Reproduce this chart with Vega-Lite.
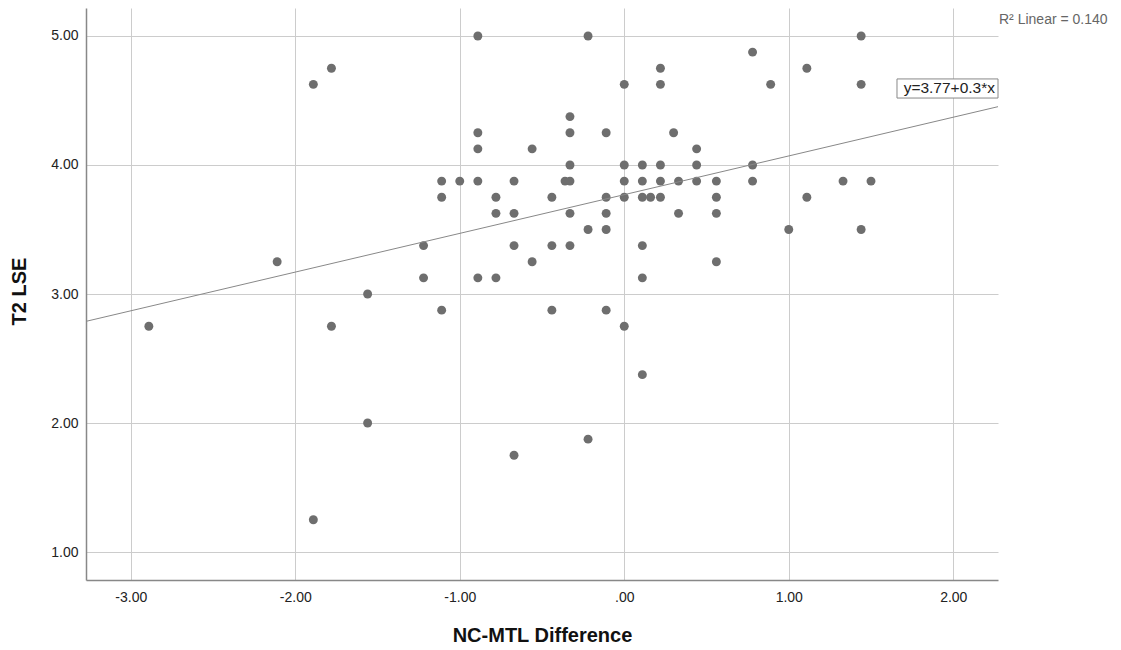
{
  "$schema": "https://vega.github.io/schema/vega-lite/v6.json",
  "width": 912,
  "height": 572,
  "autosize": {"type": "none"},
  "padding": {"left": 86, "top": 8, "right": 123, "bottom": 70},
  "background": "white",
  "config": {"view": {"stroke": null}, "font": "Liberation Sans"},
  "datasets": {
    "points": [
      {"diff": -0.89, "lse": 5.0}, {"diff": -0.22, "lse": 5.0}, {"diff": 1.44, "lse": 5.0},
      {"diff": 0.78, "lse": 4.875},
      {"diff": -1.78, "lse": 4.75}, {"diff": 0.22, "lse": 4.75}, {"diff": 1.11, "lse": 4.75},
      {"diff": -1.89, "lse": 4.625}, {"diff": 0.0, "lse": 4.625}, {"diff": 0.22, "lse": 4.625}, {"diff": 0.89, "lse": 4.625}, {"diff": 1.44, "lse": 4.625},
      {"diff": -0.33, "lse": 4.375},
      {"diff": -0.89, "lse": 4.25}, {"diff": -0.33, "lse": 4.25}, {"diff": -0.11, "lse": 4.25}, {"diff": 0.30, "lse": 4.25},
      {"diff": -0.89, "lse": 4.125}, {"diff": -0.56, "lse": 4.125}, {"diff": 0.44, "lse": 4.125},
      {"diff": -0.33, "lse": 4.0}, {"diff": 0.0, "lse": 4.0}, {"diff": 0.11, "lse": 4.0}, {"diff": 0.22, "lse": 4.0}, {"diff": 0.44, "lse": 4.0}, {"diff": 0.78, "lse": 4.0},
      {"diff": -1.11, "lse": 3.875}, {"diff": -1.0, "lse": 3.875}, {"diff": -0.89, "lse": 3.875}, {"diff": -0.67, "lse": 3.875}, {"diff": -0.36, "lse": 3.875}, {"diff": -0.33, "lse": 3.875}, {"diff": 0.0, "lse": 3.875}, {"diff": 0.11, "lse": 3.875}, {"diff": 0.22, "lse": 3.875}, {"diff": 0.33, "lse": 3.875}, {"diff": 0.44, "lse": 3.875}, {"diff": 0.56, "lse": 3.875}, {"diff": 0.78, "lse": 3.875}, {"diff": 1.33, "lse": 3.875}, {"diff": 1.50, "lse": 3.875},
      {"diff": -1.11, "lse": 3.75}, {"diff": -0.78, "lse": 3.75}, {"diff": -0.44, "lse": 3.75}, {"diff": -0.11, "lse": 3.75}, {"diff": 0.0, "lse": 3.75}, {"diff": 0.11, "lse": 3.75}, {"diff": 0.16, "lse": 3.75}, {"diff": 0.22, "lse": 3.75}, {"diff": 0.56, "lse": 3.75}, {"diff": 1.11, "lse": 3.75},
      {"diff": -0.78, "lse": 3.625}, {"diff": -0.67, "lse": 3.625}, {"diff": -0.33, "lse": 3.625}, {"diff": -0.11, "lse": 3.625}, {"diff": 0.33, "lse": 3.625}, {"diff": 0.56, "lse": 3.625},
      {"diff": -0.22, "lse": 3.5}, {"diff": -0.11, "lse": 3.5}, {"diff": 1.0, "lse": 3.5}, {"diff": 1.44, "lse": 3.5},
      {"diff": -1.22, "lse": 3.375}, {"diff": -0.67, "lse": 3.375}, {"diff": -0.44, "lse": 3.375}, {"diff": -0.33, "lse": 3.375}, {"diff": 0.11, "lse": 3.375},
      {"diff": -2.11, "lse": 3.25}, {"diff": -0.56, "lse": 3.25}, {"diff": 0.56, "lse": 3.25},
      {"diff": -1.22, "lse": 3.125}, {"diff": -0.89, "lse": 3.125}, {"diff": -0.78, "lse": 3.125}, {"diff": 0.11, "lse": 3.125},
      {"diff": -1.56, "lse": 3.0},
      {"diff": -1.11, "lse": 2.875}, {"diff": -0.44, "lse": 2.875}, {"diff": -0.11, "lse": 2.875},
      {"diff": -2.89, "lse": 2.75}, {"diff": -1.78, "lse": 2.75}, {"diff": 0.0, "lse": 2.75},
      {"diff": 0.11, "lse": 2.375},
      {"diff": -1.56, "lse": 2.0},
      {"diff": -0.22, "lse": 1.875},
      {"diff": -0.67, "lse": 1.75},
      {"diff": -1.89, "lse": 1.25}
    ],
    "fit": [
      {"diff": -3.272, "lse": 2.788},
      {"diff": 2.272, "lse": 4.452}
    ],
    "box": [
      {"label": "y=3.77+0.3*x", "x1": 1.658, "x2": 2.272, "y1": 4.519, "y2": 4.667, "ym": 4.593}
    ],
    "r2": [
      {"label": "R² Linear = 0.140", "x": 2.272, "y": 5.124}
    ]
  },
  "layer": [
    {
      "data": {"name": "points"},
      "mark": {"type": "circle", "size": 80, "color": "#6e6e6e", "opacity": 1},
      "encoding": {
        "x": {
          "field": "diff", "type": "quantitative",
          "scale": {"domain": [-3.272, 2.272], "nice": false, "zero": false},
          "axis": {
            "title": "NC-MTL Difference", "values": [-3, -2, -1, 0, 1, 2],
            "labelExpr": "datum.value == 0 ? '.00' : (datum.value < 0 ? '-' : '') + format(abs(datum.value), '.2f')",
            "ticks": false, "labelPadding": 10, "labelFontSize": 14, "labelColor": "#222",
            "grid": true, "gridColor": "#cccccc", "gridWidth": 1,
            "domainColor": "#888888", "domainWidth": 1.5,
            "titleFontSize": 20, "titleFontWeight": "bold", "titleColor": "#111",
            "titleX": 456, "titleY": 55, "titleBaseline": "middle", "titleAlign": "center"
          }
        },
        "y": {
          "field": "lse", "type": "quantitative",
          "scale": {"domain": [0.783, 5.217], "nice": false, "zero": false},
          "axis": {
            "title": "T2 LSE", "values": [1, 2, 3, 4, 5],
            "labelExpr": "format(datum.value, '.2f')",
            "ticks": false, "labelPadding": 8, "labelFontSize": 14, "labelColor": "#222",
            "grid": true, "gridColor": "#cccccc", "gridWidth": 1,
            "domainColor": "#888888", "domainWidth": 1.5,
            "titleFontSize": 20, "titleFontWeight": "bold", "titleColor": "#111",
            "titleX": -67, "titleY": 283, "titleBaseline": "middle", "titleAlign": "center", "titleAngle": -90
          }
        }
      }
    },
    {
      "data": {"name": "fit"},
      "mark": {"type": "line", "color": "#888888", "strokeWidth": 1},
      "encoding": {
        "x": {"field": "diff", "type": "quantitative"},
        "y": {"field": "lse", "type": "quantitative"}
      }
    },
    {
      "data": {"name": "box"},
      "mark": {"type": "rect", "fill": "white", "stroke": "#888888", "strokeWidth": 1},
      "encoding": {
        "x": {"field": "x1", "type": "quantitative"},
        "x2": {"field": "x2"},
        "y": {"field": "y1", "type": "quantitative"},
        "y2": {"field": "y2"}
      }
    },
    {
      "data": {"name": "box"},
      "mark": {"type": "text", "align": "right", "baseline": "middle", "dx": -3, "fontSize": 15.5, "color": "#222"},
      "encoding": {
        "x": {"field": "x2", "type": "quantitative"},
        "y": {"field": "ym", "type": "quantitative"},
        "text": {"field": "label"}
      }
    },
    {
      "data": {"name": "r2"},
      "mark": {"type": "text", "align": "left", "baseline": "middle", "dx": 1, "fontSize": 14, "color": "#666666"},
      "encoding": {
        "x": {"field": "x", "type": "quantitative"},
        "y": {"field": "y", "type": "quantitative"},
        "text": {"field": "label"}
      }
    }
  ]
}
